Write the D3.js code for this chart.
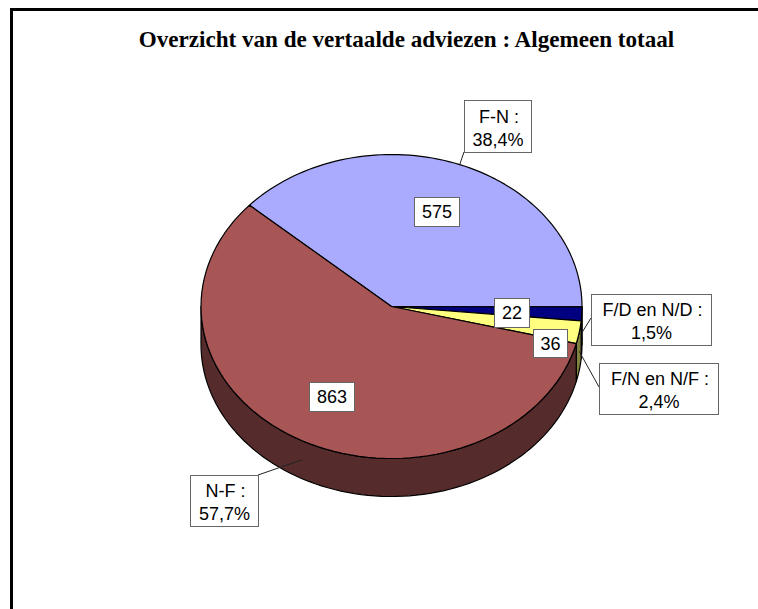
<!DOCTYPE html>
<html><head><meta charset="utf-8">
<script src="https://cdn.jsdelivr.net/npm/d3@7"></script>
<style>html,body{margin:0;padding:0;background:#fff;overflow:hidden}svg{display:block}</style>
</head><body><svg id="c" width="758" height="609"></svg>
<script>
const titleText = "Overzicht van de vertaalde adviezen : Algemeen totaal";
const categories = ["F-N", "F/D en N/D", "F/N en N/F", "N-F"];
const values = [575, 22, 36, 863];
const percentLabels = ["38,4%", "1,5%", "2,4%", "57,7%"];
const topColors = ["#AAAAFF", "#000080", "#FFFF80", "#A85555"];
const sideColors = ["#555580", "#000040", "#808040", "#552B2B"];

// layout
const cx = 391.5, cy = 306.5, rx = 190.5, ry = 152, depth = 38;
const startDeg = -138.2; // degrees clockwise from east where the first slice starts
const valueBoxes = [[414,197,45,29],[494,298,35,29],[533,329,34,28],[309,382,45,29]];
const catBoxes = [[464,100,67,52],[591,294,120,51],[599,363,119,51],[190,475,68,51]];
const leaderStart = [[464,152],[591,318],[599,387],[258,475]];

const svg = d3.select("#c");

// frame
svg.append("path").attr("d","M11.5,609V9.5H758").attr("fill","none").attr("stroke","#000").attr("stroke-width",3);

svg.append("text").attr("x",406.5).attr("y",47).attr("text-anchor","middle")
  .attr("font-family","'Liberation Serif'").attr("font-weight","bold").attr("font-size",23.1).text(titleText);

const toRad = d3.scaleLinear().domain([0,360]).range([0,2*Math.PI]);
const pie = d3.pie().sort(null).startAngle(toRad(startDeg)).endAngle(toRad(startDeg+360));
const arcs = pie(values);
const px = a => cx + rx*Math.cos(a);
const py = a => cy + ry*Math.sin(a);

// side walls: front half only (0..PI)
const n = 80;
arcs.forEach((d,i)=>{
  const a0 = Math.max(d.startAngle,0), a1 = Math.min(d.endAngle,Math.PI);
  if(a1<=a0) return;
  const ang = d3.range(n+1).map(k=>a0+(a1-a0)*k/n);
  const pts = ang.map(a=>[px(a),py(a)]).concat(ang.slice().reverse().map(a=>[px(a),py(a)+depth]));
  svg.append("path").attr("d",d3.line()(pts)+"Z").attr("fill",sideColors[i]).attr("stroke","#000").attr("stroke-width",1.2).attr("stroke-linejoin","round");
});

// top faces
arcs.forEach((d,i)=>{
  const ang = d3.range(n+1).map(k=>d.startAngle+(d.endAngle-d.startAngle)*k/n);
  const pts = [[cx,cy]].concat(ang.map(a=>[px(a),py(a)]));
  svg.append("path").attr("d",d3.line()(pts)+"Z").attr("fill",topColors[i]).attr("stroke","#000").attr("stroke-width",1.2).attr("stroke-linejoin","round");
});

// leaders
arcs.forEach((d,i)=>{
  const m=(d.startAngle+d.endAngle)/2;
  const ex=px(m), ey=py(m)+(Math.sin(m)>0?depth/2:0);
  svg.append("line").attr("x1",leaderStart[i][0]).attr("y1",leaderStart[i][1]).attr("x2",ex).attr("y2",ey).attr("stroke","#222").attr("stroke-width",1);
});

const font = "'Liberation Sans'", fs = 18;
function box(b){
  svg.append("rect").attr("x",b[0]+.5).attr("y",b[1]+.5).attr("width",b[2]).attr("height",b[3]).attr("fill","#fff").attr("stroke","#666").attr("stroke-width",1);
}
function label(x,y,t){
  svg.append("text").attr("x",x).attr("y",y).attr("text-anchor","middle").attr("font-family",font).attr("font-size",fs).attr("fill","#000").text(t);
}
values.forEach((v,i)=>{
  const b=valueBoxes[i]; box(b);
  label(b[0]+b[2]/2+.5,b[1]+b[3]/2+6.5,String(v));
});
categories.forEach((c,i)=>{
  const b=catBoxes[i]; box(b);
  label(b[0]+b[2]/2+1.5,b[1]+b[3]/2-3.5,c+" :");
  label(b[0]+b[2]/2+.5,b[1]+b[3]/2+19.5,percentLabels[i]);
});
</script></body></html>
